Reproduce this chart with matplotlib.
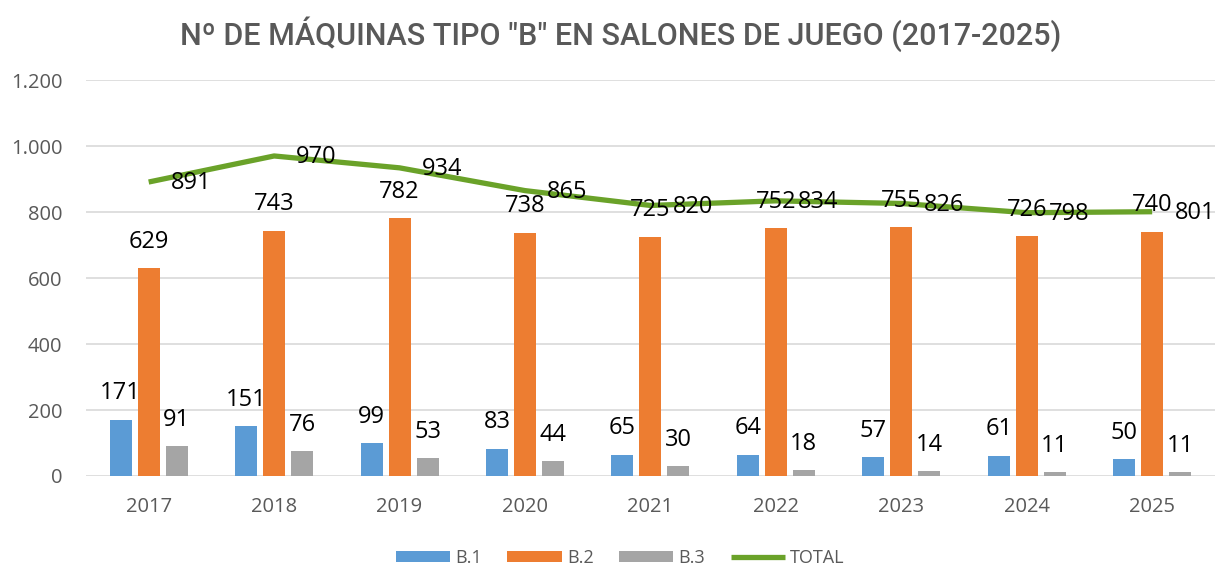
import matplotlib.pyplot as plt
import numpy as np
from matplotlib.ticker import FuncFormatter

# data
years = ["2017", "2018", "2019", "2020", "2021", "2022", "2023", "2024", "2025"]
b1 = [171, 151, 99, 83, 65, 64, 57, 61, 50]
b2 = [629, 743, 782, 738, 725, 752, 755, 726, 740]
b3 = [91, 76, 53, 44, 30, 18, 14, 11, 11]
total = [891, 970, 934, 865, 820, 834, 826, 798, 801]

C_B1 = "#5B9BD5"
C_B2 = "#ED7D31"
C_B3 = "#A5A5A5"
C_TOT = "#6AA229"
GRAY = "#595959"

plt.rcParams["font.family"] = ["Open Sans", "DejaVu Sans"]

fig = plt.figure(figsize=(12.21, 5.68), dpi=100)
ax = fig.add_axes([0.0704, 0.162, 0.9246, 0.697])

x = np.arange(len(years))
w = 0.175
off = 0.223

series = [(b1, C_B1, "B.1", -off), (b2, C_B2, "B.2", 0), (b3, C_B3, "B.3", off)]
for vals, col, lab, dx in series:
    ax.bar(x + dx, vals, width=w, color=col, label=lab, zorder=2)
    for xi, v in zip(x + dx, vals):
        ax.annotate(str(v), (xi, v), xytext=(0, 19), textcoords="offset points",
                    ha="center", va="center", fontsize=17, color="black", zorder=4)

ax.plot(x, total, color=C_TOT, lw=3.8, label="TOTAL", zorder=3,
        solid_capstyle="butt")
for xi, v in zip(x, total):
    ax.annotate(str(v), (xi, v), xytext=(16, -1), textcoords="offset points",
                ha="left", va="center", fontsize=17, color="black", zorder=4)

ax.set_xlim(-0.5, len(years) - 0.5)
ax.set_ylim(0, 1200)
ax.set_yticks(range(0, 1201, 200))
ax.yaxis.set_major_formatter(FuncFormatter(lambda v, p: f"{int(v):,}".replace(",", ".")))
ax.set_xticks(x)
ax.set_xticklabels(years)
ax.tick_params(axis="both", length=0, labelsize=14.5, colors=GRAY)
ax.tick_params(axis="x", pad=15)
ax.tick_params(axis="y", pad=17)
ax.grid(axis="y", color="#D9D9D9", lw=1.2, zorder=0)
ax.set_axisbelow(True)
for s in ax.spines.values():
    s.set_visible(False)

fig.text(0.508, 0.94, 'Nº DE MÁQUINAS TIPO "B" EN SALONES DE JUEGO (2017-2025)',
         ha="center", va="center", fontsize=22, color=GRAY, fontweight="medium",
         family=["Roboto", "DejaVu Sans"])

handles, labels = ax.get_legend_handles_labels()
order = [1, 2, 3, 0]
fig.legend([handles[i] for i in order], [labels[i] for i in order],
           loc="center", bbox_to_anchor=(0.508, 0.018), ncol=4,
           frameon=False, fontsize=13, labelcolor=GRAY, handlelength=3.0,
           handleheight=0.5, columnspacing=1.4, handletextpad=0.3)

fig.savefig("out.png", dpi=100)
